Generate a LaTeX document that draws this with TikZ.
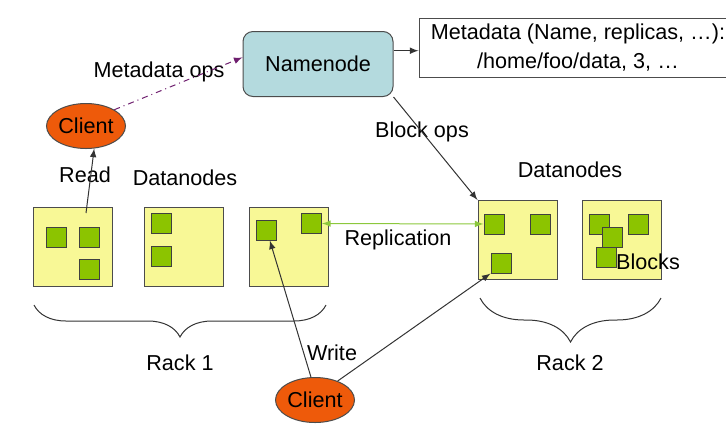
\documentclass[tikz,border=0pt]{standalone}
\usepackage{fontspec}
\setmainfont{Liberation Sans}
\usetikzlibrary{shapes.geometric,decorations.pathreplacing}

\definecolor{nnblue}{RGB}{180,218,222}
\definecolor{clorange}{RGB}{238,90,10}
\definecolor{dnyellow}{RGB}{248,248,150}
\definecolor{blkgreen}{RGB}{140,196,0}
\definecolor{opspurple}{RGB}{110,30,110}
\definecolor{repgreen}{RGB}{140,200,60}

\begin{document}
\begin{tikzpicture}[x=0.5pt,y=-0.5pt,>=latex,line width=0.5pt,
	every node/.style={font=\fontsize{10.8}{14.5}\selectfont},
	client/.style={ellipse,draw=black!70,fill=clorange,minimum width=39.5pt,minimum height=22.5pt,inner sep=0pt},
	datanode/.style={draw=black!70,fill=dnyellow,minimum size=39.5pt,inner sep=0pt},
	blk/.style={draw=black!75,fill=blkgreen,minimum size=10pt,inner sep=0pt},
	rackbrace/.style={draw=black!80,decorate,decoration={brace,mirror,amplitude=#1}}]
	
	\useasboundingbox (0,0) rectangle (726,424);
	
	\node[draw=black!70,fill=nnblue,rounded corners=5pt,minimum width=75pt,minimum height=32.5pt] (nn) at (318,64) {Namenode};
	
	\node[draw=black!70,align=center,minimum width=159pt,minimum height=29.5pt,inner sep=0pt] (meta) at (578,47.5) {Metadata (Name, replicas, …):\\/home/foo/data, 3, …};
	
	\node[client] (c1) at (86,126) {Client};
	
	\node[client] (c2) at (315,400) {Client};
	
	\node[datanode] (dn1) at (72.5,246.5) {};
	\node[datanode] (dn2) at (183.5,246.5) {};
	\node[datanode] (dn3) at (288.5,246.5) {};
	\node[datanode] (dn4) at (517.5,240) {};
	\node[datanode] (dn5) at (621.5,240) {};
	
	\node[blk] (b11) at (56.5,237) {};
	\node[blk] (b12) at (89,237) {};
	\node[blk] (b13) at (89,269) {};
	\node[blk] (b21) at (161,223.5) {};
	\node[blk] (b22) at (161,256) {};
	\node[blk] (b31) at (266,230) {};
	\node[blk] (b32) at (311.5,223.5) {};
	\node[blk] (b41) at (494,224) {};
	\node[blk] (b42) at (540,224) {};
	\node[blk] (b43) at (501,263) {};
	\node[blk] (b51) at (599,224) {};
	\node[blk] (b52) at (612,237) {};
	\node[blk] (b53) at (606,257) {};
	\node[blk] (b54) at (638,224) {};
	
	\node (lmeta) at (159,72) {Metadata ops};
	\node (lread) at (85,175) {Read};
	\node (ldn1) at (185,178) {Datanodes};
	\node (ldn2) at (570,170) {Datanodes};
	\node (lblk) at (422,132) {Block ops};
	\node (lrep) at (398,240) {Replication};
	\node (lwrite) at (332,353) {Write};
	\node (lblocks) at (648,262) {Blocks};
	\node (lrack1) at (180,363) {Rack 1};
	\node (lrack2) at (570,363) {Rack 2};
	
	\coordinate (rd) at (86,213);
	\coordinate (r1a) at (34,305);
	\coordinate (r1b) at (326,305);
	\coordinate (r2a) at (480,298);
	\coordinate (r2b) at (661,298);
	
	\draw[->,opspurple,dash dot] (c1.north east) -- (nn.175);
	\draw[->,black!80] (nn.10) -- (nn.10 -| meta.west);
	\draw[->,black!80] (nn.south east) -- (dn4.north west);
	\draw[->,black!80] (rd) -- (c1.-70);
	\draw[->,black!80] (c2.100) -- (b31.-70);
	\draw[->,black!80] (c2.40) -- (b43.south west);
	\draw[<->,repgreen] (b32) -- (b41);
	\draw[rackbrace=16pt] (r1a) -- (r1b);
	\draw[rackbrace=22pt] (r2a) -- (r2b);
	
\end{tikzpicture}
\end{document}
